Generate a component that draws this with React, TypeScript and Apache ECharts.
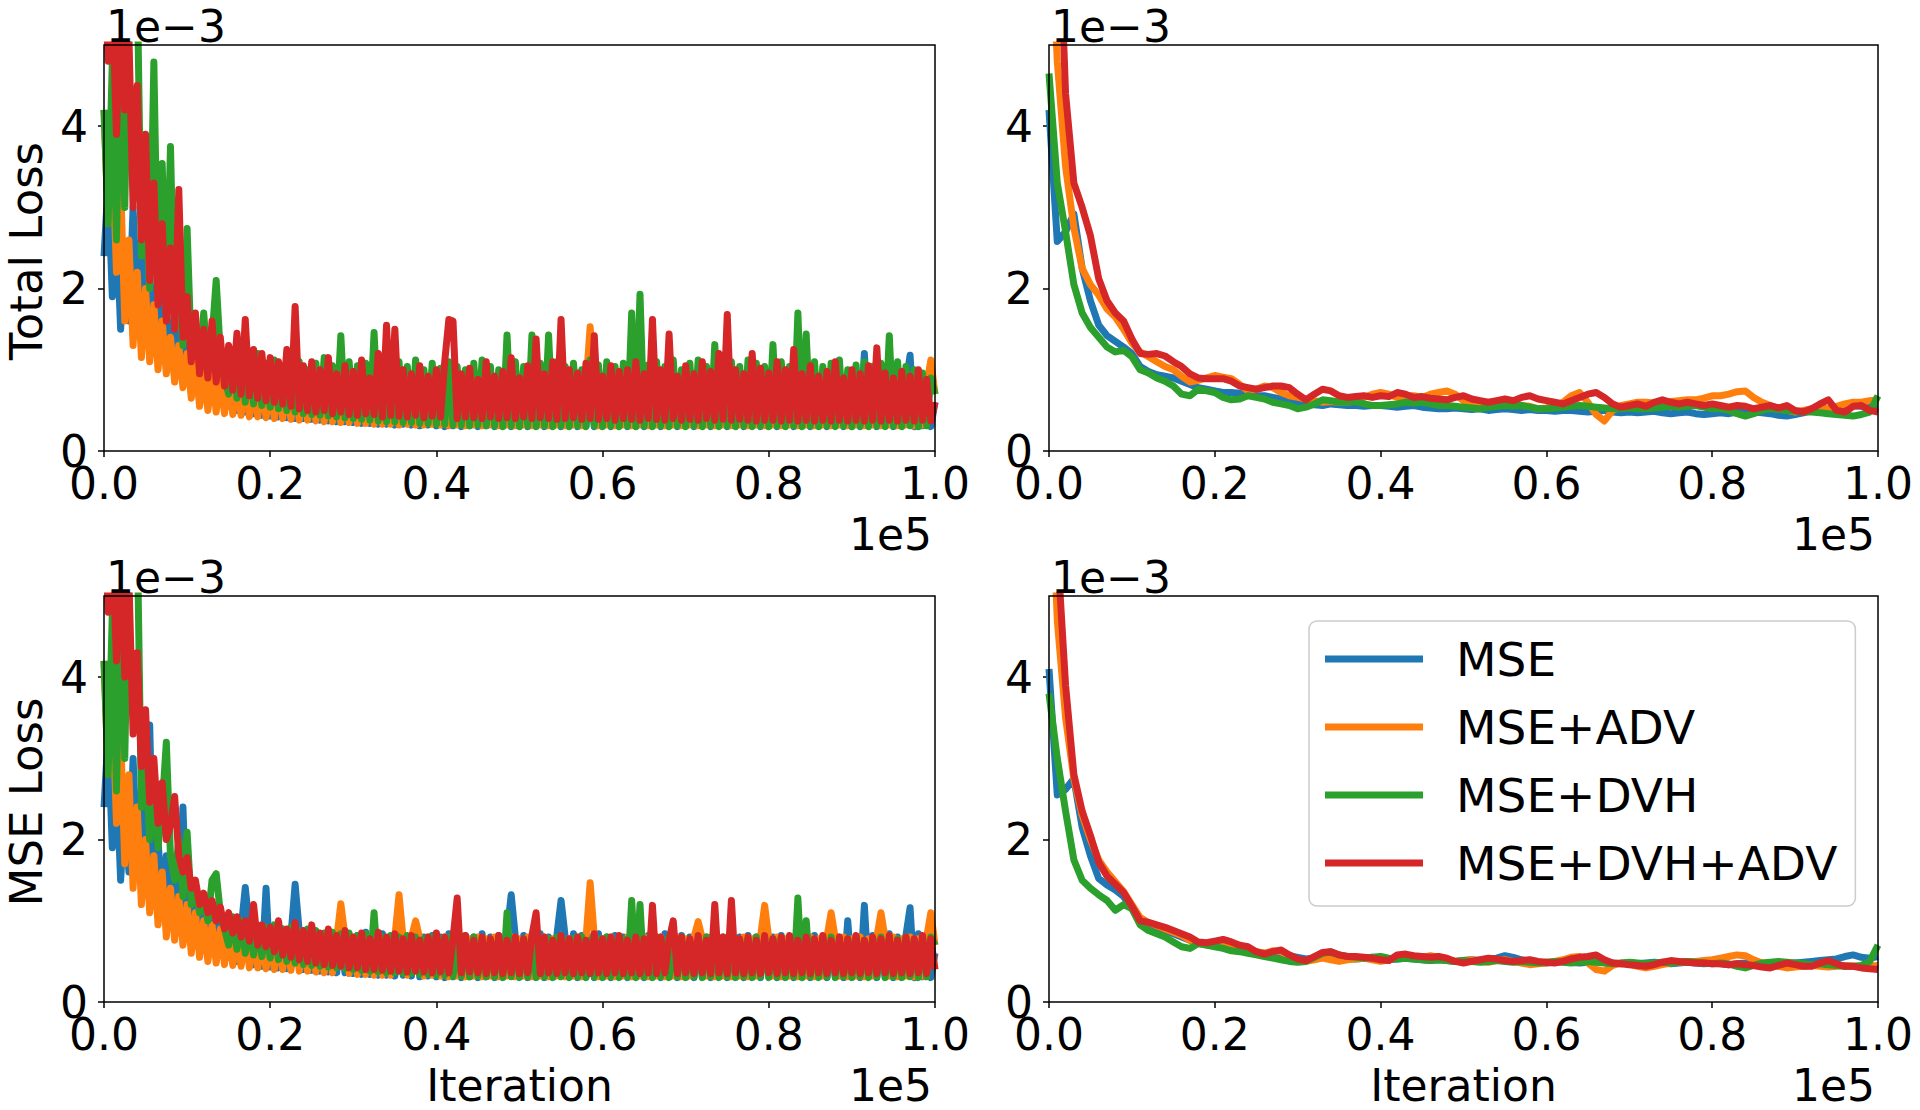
import React, { useEffect, useRef } from "react";
import * as echarts from "echarts";

// ---------- data (loss values in units of 1e-5) ----------
const SERIES_NAMES = ["MSE", "MSE+ADV", "MSE+DVH", "MSE+DVH+ADV"];
const COLORS = ["#1f77b4", "#ff7f0e", "#2ca02c", "#d62728"];
const X_TICKS = [0, 20000, 40000, 60000, 80000, 100000];
const Y_TICKS = [0, 2, 4]; // in units of 1e-3
const NOISY_STEP = 500; // iterations between logged points (left panels)
const SMOOTH_STEP = 1000; // iterations between smoothed points (right panels)

// Top-left: Total loss (raw)
const TOTAL_RAW_MSE = [
  240, 330, 190, 280, 150, 240, 160, 300, 170, 260,
  140, 220, 130, 200, 120, 180, 110, 160, 100, 140,
  90, 130, 80, 120, 70, 110, 62, 105, 58, 100,
  55, 95, 50, 90, 48, 92, 46, 85, 44, 88,
  43, 84, 42, 90, 41, 82, 40, 86, 40, 80,
  39, 84, 38, 80, 37, 85, 36, 82, 36, 80,
  35, 82, 34, 86, 34, 80, 33, 84, 33, 80,
  32, 83, 33, 80, 32, 85, 31, 80, 32, 82,
  31, 80, 30, 84, 31, 80, 30, 82, 31, 80,
  30, 84, 31, 80, 30, 82, 31, 85, 30, 80,
  31, 82, 30, 80, 31, 84, 30, 80, 31, 82,
  30, 80, 31, 84, 30, 82, 31, 80, 30, 84,
  31, 80, 30, 82, 31, 80, 30, 84, 31, 80,
  30, 82, 31, 80, 30, 84, 31, 80, 30, 82,
  31, 80, 30, 84, 31, 80, 30, 82, 31, 80,
  30, 84, 31, 80, 30, 82, 31, 80, 30, 84,
  31, 80, 30, 82, 31, 80, 30, 84, 31, 80,
  30, 82, 31, 80, 30, 84, 31, 80, 30, 82,
  31, 80, 30, 120, 31, 82, 30, 80, 31, 84,
  30, 80, 31, 82, 118, 30, 84, 31, 80, 30,
  60,
];
const TOTAL_RAW_ADV = [
  420, 280, 380, 220, 330, 160, 260, 130, 220, 115,
  200, 110, 180, 100, 160, 95, 140, 85, 130, 78,
  120, 65, 110, 55, 100, 50, 95, 48, 90, 46,
  90, 45, 85, 44, 88, 42, 80, 42, 85, 41,
  82, 40, 88, 40, 80, 39, 85, 38, 80, 38,
  82, 37, 80, 36, 85, 36, 80, 35, 82, 35,
  80, 34, 85, 34, 82, 33, 80, 33, 85, 33,
  82, 32, 80, 33, 85, 32, 80, 32, 82, 33,
  80, 32, 84, 31, 80, 32, 86, 31, 82, 32,
  80, 31, 84, 32, 82, 31, 80, 32, 85, 31,
  82, 32, 80, 31, 84, 32, 80, 31, 82, 32,
  80, 31, 84, 32, 82, 31, 80, 153, 82, 31,
  84, 32, 80, 31, 82, 32, 86, 31, 80, 32,
  82, 31, 80, 32, 84, 31, 80, 32, 82, 31,
  80, 32, 84, 31, 82, 32, 80, 31, 86, 32,
  82, 31, 80, 32, 84, 31, 80, 32, 82, 31,
  80, 32, 84, 31, 82, 32, 86, 31, 80, 32,
  82, 31, 80, 32, 84, 31, 80, 32, 82, 31,
  80, 32, 84, 31, 82, 32, 80, 31, 86, 32,
  82, 31, 80, 32, 84, 31, 80, 32, 82, 112,
  70,
];
const TOTAL_RAW_DVH = [
  420, 280, 480, 260, 520, 300, 560, 620, 580, 240,
  300, 200, 479, 190, 354, 170, 375, 150, 200, 130,
  274, 120, 150, 110, 170, 100, 140, 210, 120, 90,
  70, 125, 65, 118, 60, 112, 58, 120, 56, 108,
  54, 112, 52, 105, 50, 115, 48, 110, 46, 100,
  45, 108, 44, 115, 43, 105, 42, 142, 41, 110,
  40, 105, 39, 108, 38, 146, 37, 112, 36, 105,
  36, 110, 35, 104, 35, 112, 34, 100, 34, 108,
  33, 102, 33, 110, 32, 104, 32, 100, 31, 108,
  32, 112, 31, 104, 31, 100, 30, 143, 31, 110,
  30, 104, 31, 143, 30, 108, 31, 143, 30, 110,
  31, 104, 30, 108, 31, 100, 30, 112, 31, 106,
  30, 110, 31, 104, 30, 108, 31, 170, 30, 193,
  31, 106, 30, 110, 31, 104, 30, 112, 31, 100,
  30, 108, 31, 112, 30, 104, 31, 131, 30, 108,
  31, 110, 30, 104, 31, 112, 30, 108, 31, 104,
  30, 131, 31, 110, 30, 104, 31, 170, 30, 144,
  31, 110, 30, 104, 31, 108, 30, 112, 31, 100,
  30, 106, 31, 110, 30, 104, 31, 108, 30, 142,
  31, 110, 30, 104, 31, 100, 30, 96, 31, 90,
  70,
];
const TOTAL_RAW_DVH_ADV = [
  620, 480, 560, 390, 540, 420, 510, 300, 450, 260,
  390, 210, 330, 180, 280, 160, 250, 150, 322, 140,
  190, 110, 170, 95, 150, 90, 160, 85, 140, 80,
  130, 75, 145, 70, 162, 68, 125, 65, 120, 62,
  115, 60, 110, 58, 125, 55, 178, 52, 105, 50,
  110, 48, 100, 50, 115, 46, 95, 48, 105, 45,
  98, 44, 112, 46, 90, 45, 120, 42, 155, 44,
  150, 43, 100, 42, 95, 44, 105, 41, 92, 43,
  100, 42, 110, 162, 160, 40, 95, 42, 102, 41,
  88, 40, 110, 42, 92, 40, 98, 41, 115, 40,
  90, 42, 105, 40, 138, 41, 95, 40, 110, 39,
  162, 40, 100, 41, 96, 39, 108, 40, 142, 39,
  92, 40, 105, 38, 98, 40, 100, 39, 110, 38,
  95, 40, 162, 39, 100, 38, 144, 40, 92, 38,
  105, 39, 95, 38, 110, 40, 98, 38, 120, 39,
  168, 38, 100, 39, 95, 38, 120, 37, 102, 38,
  96, 38, 110, 37, 100, 38, 125, 37, 95, 38,
  105, 37, 92, 38, 98, 37, 110, 38, 90, 37,
  100, 38, 95, 37, 105, 38, 127, 37, 96, 38,
  90, 37, 98, 38, 92, 37, 100, 38, 88, 37,
  60,
];

// Bottom-left: MSE loss (raw)
const MSE_RAW_MSE = [
  240, 330, 190, 280, 150, 240, 160, 300, 170, 260,
  140, 341, 130, 200, 120, 180, 110, 160, 100, 240,
  90, 130, 80, 120, 70, 110, 62, 105, 58, 100,
  55, 95, 50, 90, 141, 92, 46, 85, 44, 140,
  43, 84, 42, 90, 41, 82, 145, 86, 40, 80,
  39, 84, 38, 80, 37, 85, 36, 82, 36, 80,
  35, 82, 34, 86, 34, 80, 33, 84, 33, 80,
  32, 83, 33, 80, 32, 85, 31, 80, 32, 82,
  31, 80, 30, 84, 31, 80, 30, 82, 31, 80,
  30, 84, 31, 80, 30, 82, 31, 85, 132, 80,
  31, 82, 30, 80, 31, 84, 30, 80, 31, 82,
  125, 80, 31, 84, 30, 82, 31, 80, 30, 84,
  31, 80, 30, 82, 31, 80, 30, 84, 31, 80,
  30, 82, 31, 80, 30, 84, 31, 80, 30, 82,
  31, 80, 30, 84, 31, 80, 30, 82, 31, 80,
  30, 84, 31, 80, 30, 82, 31, 80, 30, 84,
  31, 80, 30, 82, 31, 80, 30, 84, 31, 80,
  30, 82, 31, 80, 30, 84, 31, 80, 30, 100,
  31, 80, 30, 119, 31, 82, 30, 80, 31, 84,
  30, 80, 31, 82, 116, 30, 84, 31, 80, 30,
  60,
];
const MSE_RAW_ADV = [
  420, 280, 380, 220, 330, 170, 280, 140, 240, 120,
  200, 110, 180, 95, 160, 80, 140, 76, 130, 70,
  120, 60, 110, 55, 100, 50, 95, 48, 90, 46,
  88, 45, 85, 44, 82, 42, 80, 42, 78, 41,
  80, 40, 78, 40, 82, 39, 80, 38, 78, 38,
  80, 37, 78, 36, 80, 36, 78, 121, 80, 35,
  78, 34, 80, 34, 78, 33, 80, 33, 78, 33,
  80, 132, 78, 33, 80, 100, 78, 32, 80, 33,
  78, 32, 80, 31, 78, 32, 80, 31, 78, 32,
  80, 31, 78, 32, 80, 31, 78, 32, 80, 31,
  78, 32, 80, 31, 78, 32, 80, 31, 78, 32,
  80, 31, 78, 32, 80, 31, 78, 147, 80, 31,
  78, 32, 80, 31, 78, 32, 80, 31, 78, 32,
  80, 31, 78, 32, 80, 31, 78, 32, 80, 31,
  78, 32, 80, 99, 78, 32, 80, 31, 78, 32,
  80, 31, 78, 32, 80, 31, 78, 32, 80, 119,
  78, 32, 80, 31, 78, 32, 80, 31, 78, 32,
  80, 31, 78, 32, 80, 110, 78, 32, 80, 31,
  78, 32, 80, 31, 78, 32, 80, 110, 78, 32,
  80, 31, 78, 32, 80, 31, 78, 32, 80, 110,
  70,
];
const MSE_RAW_DVH = [
  420, 280, 480, 260, 520, 300, 560, 600, 580, 240,
  300, 200, 260, 190, 240, 320, 180, 150, 200, 130,
  209, 120, 140, 110, 130, 100, 150, 158, 110, 90,
  70, 105, 65, 100, 60, 98, 58, 95, 56, 92,
  54, 95, 52, 90, 50, 92, 48, 88, 46, 90,
  45, 88, 44, 85, 43, 86, 42, 84, 41, 85,
  40, 82, 39, 84, 38, 110, 37, 80, 36, 82,
  36, 80, 35, 82, 35, 80, 34, 78, 34, 80,
  33, 78, 33, 80, 32, 76, 32, 78, 31, 80,
  32, 76, 31, 78, 31, 80, 30, 110, 31, 76,
  30, 78, 31, 80, 30, 76, 31, 78, 30, 80,
  31, 76, 30, 78, 31, 80, 30, 76, 31, 78,
  30, 80, 31, 76, 30, 78, 31, 125, 30, 120,
  31, 78, 30, 80, 31, 76, 30, 78, 31, 80,
  30, 76, 31, 78, 30, 80, 31, 76, 30, 78,
  31, 80, 30, 76, 31, 78, 30, 80, 31, 76,
  30, 78, 31, 80, 30, 76, 31, 128, 30, 100,
  31, 76, 30, 78, 31, 80, 30, 76, 31, 78,
  30, 80, 31, 76, 30, 78, 31, 80, 30, 76,
  31, 78, 30, 80, 31, 76, 30, 78, 31, 80,
  70,
];
const MSE_RAW_DVH_ADV = [
  620, 480, 570, 420, 560, 400, 520, 330, 430, 290,
  360, 246, 300, 220, 270, 200, 218, 253, 180, 160,
  178, 140, 150, 120, 134, 110, 125, 100, 117, 90,
  110, 85, 105, 80, 100, 75, 120, 70, 95, 68,
  92, 62, 100, 58, 90, 55, 98, 52, 88, 50,
  95, 48, 85, 46, 90, 45, 82, 44, 88, 42,
  80, 42, 85, 40, 78, 40, 86, 39, 80, 38,
  84, 38, 78, 37, 82, 38, 76, 37, 80, 36,
  85, 37, 80, 36, 78, 128, 36, 82, 37, 76,
  36, 80, 35, 78, 36, 82, 35, 76, 36, 80,
  35, 78, 36, 82, 110, 35, 80, 36, 76, 35,
  82, 36, 78, 35, 80, 36, 76, 35, 84, 36,
  78, 35, 80, 36, 82, 35, 76, 36, 80, 35,
  78, 36, 119, 35, 80, 36, 76, 100, 35, 80,
  36, 78, 35, 82, 36, 76, 35, 120, 36, 80,
  35, 125, 36, 78, 35, 80, 36, 76, 35, 82,
  36, 78, 35, 80, 36, 82, 35, 76, 36, 80,
  35, 78, 36, 82, 35, 76, 36, 80, 35, 78,
  36, 82, 35, 76, 36, 80, 35, 78, 36, 82,
  35, 76, 36, 80, 35, 78, 36, 82, 35, 78,
  40,
];

// Top-right: Total loss (smoothed)
const TOTAL_SM_MSE = [
  420, 258, 270, 292, 225, 185, 155, 142, 135, 128,
  120, 104, 98, 94, 92, 90, 86, 82, 78, 76,
  74, 72, 72, 71, 70, 68, 68, 66, 64, 62,
  60, 58, 57, 56, 58, 57, 56, 56, 55, 56,
  56, 55, 54, 55, 56, 54, 53, 52, 52, 53,
  52, 51, 52, 50, 51, 52, 51, 50, 51, 50,
  50, 49, 50, 50, 49, 48, 49, 50, 48, 47,
  48, 47, 48, 49, 47, 46, 47, 48, 46, 45,
  46, 47, 46, 48, 49, 48, 47, 46, 44, 43,
  45, 47, 50, 52, 51, 50, 54, 56, 55, 56,
  56,
];
const TOTAL_SM_ADV = [
  700, 480, 350, 275, 225, 205, 192, 175, 165, 150,
  133, 122, 116, 110, 104, 100, 92, 85, 87, 90,
  93, 91, 89, 82, 74, 76, 80, 78, 72, 68,
  66, 64, 62, 60, 61, 60, 60, 62, 66, 70,
  72, 70, 66, 68, 68, 66, 70, 72, 74, 70,
  62, 58, 56, 58, 60, 60, 58, 56, 55, 52,
  53, 56, 60, 68, 72, 60, 45, 37, 50, 56,
  58, 60, 60, 59, 60, 61, 62, 63, 63, 65,
  68, 68, 70, 73, 74, 66, 60, 56, 52, 50,
  48, 50, 52, 53, 52, 55, 58, 60, 60, 62,
  63,
];
const TOTAL_SM_DVH = [
  465, 330, 270, 205, 170, 152, 140, 128, 122, 124,
  116, 100, 96, 90, 86, 80, 70, 68, 76, 74,
  72, 66, 63, 64, 68, 66, 64, 60, 58, 56,
  52, 54, 58, 63, 62, 60, 60, 61, 58, 56,
  56, 57, 58, 60, 59, 60, 58, 56, 56, 55,
  54, 53, 52, 54, 55, 56, 55, 56, 54, 52,
  52, 53, 54, 55, 56, 55, 54, 53, 52, 52,
  53, 52, 52, 53, 54, 55, 54, 55, 56, 54,
  52, 52, 50, 46, 43, 46, 50, 52, 51, 50,
  49, 48, 48, 47, 46, 45, 44, 43, 45, 48,
  68,
];
const TOTAL_SM_DVH_ADV = [
  900, 720, 440, 330, 300, 265, 212, 185, 170, 160,
  138, 120, 119, 120, 117, 110, 104, 95, 90, 89,
  89, 89, 86, 80, 78, 76, 78, 80, 80, 78,
  70, 63, 70, 76, 74, 68, 66, 67, 68, 66,
  68, 67, 72, 70, 66, 67, 65, 64, 63, 66,
  68, 64, 62, 60, 62, 64, 62, 66, 68, 64,
  62, 60, 58, 62, 66, 70, 72, 66, 58, 54,
  56, 58, 55, 60, 63, 60, 58, 60, 58, 56,
  58, 56, 54, 56, 55, 52, 54, 56, 53, 56,
  50, 48, 52, 58, 63, 50, 48, 55, 56, 50,
  48,
];

// Bottom-right: MSE loss (smoothed)
const MSE_SM_MSE = [
  410, 255, 262, 275, 215, 180, 152, 144, 138, 130,
  115, 100, 96, 92, 88, 84, 80, 76, 73, 71,
  70, 69, 67, 65, 63, 61, 60, 59, 58, 57,
  55, 53, 54, 55, 56, 55, 54, 53, 54, 55,
  53, 52, 53, 54, 53, 52, 51, 52, 51, 50,
  51, 52, 51, 52, 54, 57, 55, 52, 50, 49,
  48, 49, 50, 49, 48, 49, 50, 49, 48, 47,
  48, 47, 48, 49, 48, 47, 48, 49, 48, 47,
  48, 47, 46, 47, 48, 47, 46, 45, 46, 47,
  48, 49, 50, 51, 52, 53, 56, 58, 55, 54,
  56,
];
const MSE_SM_ADV = [
  720, 470, 350, 275, 230, 200, 175, 160, 148, 136,
  120, 104, 98, 94, 90, 86, 82, 76, 72, 70,
  72, 73, 70, 66, 63, 62, 60, 63, 62, 56,
  52, 50, 52, 54, 52, 50, 52, 53, 54, 52,
  50, 52, 55, 56, 54, 55, 57, 55, 52, 50,
  51, 52, 50, 49, 51, 52, 50, 48, 46, 47,
  48, 50, 52, 55, 56, 48, 40, 38, 45, 48,
  47, 44, 42, 44, 46, 48, 49, 50, 50, 51,
  52, 54, 56, 58, 57, 52, 48, 46, 44, 42,
  43, 44, 45, 44, 43, 44, 45, 44, 43, 44,
  45,
];
const MSE_SM_DVH = [
  380, 300, 235, 175, 150, 140, 132, 125, 113, 120,
  115, 95, 88, 84, 80, 74, 68, 66, 72, 70,
  68, 66, 63, 62, 60, 58, 56, 54, 52, 50,
  49, 50, 55, 60, 62, 58, 56, 55, 54, 55,
  56, 54, 53, 54, 53, 52, 51, 52, 51, 50,
  51, 50, 49, 50, 51, 50, 49, 50, 49, 48,
  49, 50, 49, 48, 49, 50, 49, 48, 47, 48,
  49, 48, 47, 48, 49, 48, 49, 50, 49, 48,
  47, 48, 47, 44, 42, 45, 48, 49, 50, 49,
  48, 47, 46, 47, 46, 45, 44, 44, 45, 50,
  70,
];
const MSE_SM_DVH_ADV = [
  900, 560, 390, 280, 235, 205, 172, 155, 145, 135,
  118, 100, 98, 95, 92, 88, 84, 80, 74, 73,
  75, 77, 74, 70, 68, 62, 59, 62, 64, 58,
  53, 51, 56, 61, 62, 58, 56, 56, 55, 54,
  52, 51, 58, 59, 57, 56, 55, 56, 54, 50,
  48, 50, 52, 54, 53, 51, 50, 51, 52, 50,
  49, 48, 50, 53, 55, 56, 58, 52, 48, 47,
  46, 45, 44, 46, 49, 51, 50, 49, 48, 48,
  47, 47, 46, 47, 46, 45, 43, 42, 45, 48,
  46, 44, 44, 48, 51, 47, 44, 44, 42, 41,
  40,
];

// ---------- layout ----------
const FONT = "'DejaVu Sans', Verdana, sans-serif";
const PANELS = [
  { left: 104, top: 45, width: 831, height: 406 },
  { left: 1049, top: 45, width: 829, height: 406 },
  { left: 104, top: 596, width: 831, height: 406 },
  { left: 1049, top: 596, width: 829, height: 406 },
];

const PANEL_DATA = [
  { step: NOISY_STEP, series: [TOTAL_RAW_MSE, TOTAL_RAW_ADV, TOTAL_RAW_DVH, TOTAL_RAW_DVH_ADV] },
  { step: SMOOTH_STEP, series: [TOTAL_SM_MSE, TOTAL_SM_ADV, TOTAL_SM_DVH, TOTAL_SM_DVH_ADV] },
  { step: NOISY_STEP, series: [MSE_RAW_MSE, MSE_RAW_ADV, MSE_RAW_DVH, MSE_RAW_DVH_ADV] },
  { step: SMOOTH_STEP, series: [MSE_SM_MSE, MSE_SM_ADV, MSE_SM_DVH, MSE_SM_DVH_ADV] },
];

function buildOption() {
  const grid = PANELS.map((p) => ({ ...p, show: false, containLabel: false }));
  const tickStyle = { color: "#000", width: 1.5 };
  const xAxis = PANELS.map((_, i) => ({
    type: "value",
    gridIndex: i,
    min: 0,
    max: 100000,
    interval: 20000,
    axisLine: { show: false },
    splitLine: { show: false },
    axisTick: { show: true, inside: false, length: 6, lineStyle: tickStyle, customValues: X_TICKS },
    axisLabel: {
      show: true,
      customValues: X_TICKS,
      margin: 10,
      color: "#000",
      fontSize: 44,
      fontFamily: FONT,
      formatter: (v: number) => (v / 100000).toFixed(1),
    },
  }));
  const yAxis = PANELS.map((_, i) => ({
    type: "value",
    gridIndex: i,
    min: 0,
    max: 5,
    interval: 2,
    axisLine: { show: false },
    splitLine: { show: false },
    axisTick: { show: true, inside: false, length: 6, lineStyle: tickStyle, customValues: Y_TICKS },
    axisLabel: {
      show: true,
      customValues: Y_TICKS,
      margin: 16,
      color: "#000",
      fontSize: 44,
      fontFamily: FONT,
      formatter: (v: number) => (Y_TICKS.indexOf(v) >= 0 ? String(v) : ""),
    },
  }));

  const series: any[] = [];
  PANEL_DATA.forEach((pd, pi) => {
    pd.series.forEach((arr, si) => {
      series.push({
        type: "line",
        name: SERIES_NAMES[si],
        xAxisIndex: pi,
        yAxisIndex: pi,
        data: arr.map((v, k) => [k * pd.step, v / 100]),
        showSymbol: false,
        symbol: "none",
        clip: true,
        color: COLORS[si],
        lineStyle: { color: COLORS[si], width: 7, join: "round", cap: "butt" },
        z: 2 + si,
        emphasis: { disabled: true },
      });
    });
  });

  const graphic: any[] = [];
  PANELS.forEach((p, i) => {
    graphic.push({
      type: "rect",
      shape: { x: p.left, y: p.top, width: p.width, height: p.height },
      style: { fill: "none", stroke: "#000", lineWidth: 1.5 },
      z: 50,
      silent: true,
    });
    graphic.push({
      type: "text",
      x: p.left + 2,
      y: p.top - 19,
      z: 50,
      style: { text: "1e\u22123", fontSize: 44, fontFamily: FONT, fill: "#000", align: "left", verticalAlign: "middle" },
    });
    graphic.push({
      type: "text",
      x: p.left + p.width - 3,
      y: p.top + p.height + 83,
      z: 50,
      style: { text: "1e5", fontSize: 44, fontFamily: FONT, fill: "#000", align: "right", verticalAlign: "middle" },
    });
    if (i >= 2) {
      graphic.push({
        type: "text",
        x: p.left + p.width / 2,
        y: p.top + p.height + 83,
        z: 50,
        style: { text: "Iteration", fontSize: 44, fontFamily: FONT, fill: "#000", align: "center", verticalAlign: "middle" },
      });
    }
    if (i === 0 || i === 2) {
      graphic.push({
        type: "text",
        x: 26,
        y: p.top + p.height / 2 + 3,
        rotation: Math.PI / 2,
        z: 50,
        style: {
          text: i === 0 ? "Total Loss" : "MSE Loss",
          fontSize: 45,
          fontFamily: FONT,
          fill: "#000",
          align: "center",
          verticalAlign: "middle",
        },
      });
    }
  });

  return {
    animation: false,
    backgroundColor: "#ffffff",
    grid,
    xAxis,
    yAxis,
    series,
    graphic,
    legend: {
      show: true,
      data: SERIES_NAMES,
      orient: "vertical",
      left: 1309,
      top: 621,
      icon: "rect",
      itemWidth: 98,
      itemHeight: 7,
      itemGap: 16,
      padding: [12, 18, 17, 16],
      backgroundColor: "rgba(255,255,255,0.8)",
      borderColor: "#cccccc",
      borderWidth: 1.5,
      borderRadius: 8,
      selectedMode: false,
      textStyle: {
        fontSize: 47,
        fontFamily: FONT,
        color: "#000",
        lineHeight: 52,
        padding: [0, 0, 0, 28],
      },
      z: 60,
    },
  };
}

export default function App() {
  const ref = useRef<HTMLDivElement>(null);
  useEffect(() => {
    if (!ref.current) return;
    const chart = echarts.init(ref.current, null, { renderer: "svg" });
    chart.setOption(buildOption() as any);
    return () => {
      chart.dispose();
    };
  }, []);
  return (
    <div
      ref={ref}
      style={{ position: "absolute", left: 0, top: 0, width: 1920, height: 1110, background: "#fff" }}
    />
  );
}
